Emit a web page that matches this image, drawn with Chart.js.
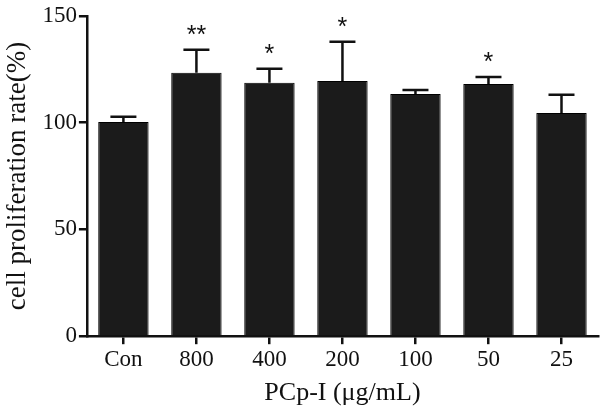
<!DOCTYPE html>
<html>
<head>
<meta charset="utf-8">
<script src="https://cdn.jsdelivr.net/npm/chart.js@4"></script>
<style>
  html, body { margin: 0; padding: 0; background: #fff; }
  #wrap { width: 608px; height: 420px; }
</style>
</head>
<body>
<div id="wrap"><canvas id="prolifChart"></canvas></div>
<script>
const groups = ["Con", "800", "400", "200", "100", "50", "25"];
const rates = [100.3, 123.3, 118.6, 119.5, 113.4, 118.1, 104.5];
const sdErr = [2.4, 10.8, 6.6, 18.3, 1.9, 3.3, 8.5];
const marks = ["", "**", "*", "*", "", "*", ""];
const yTicks = [0, 50, 100, 150];

const serif = "'Liberation Serif', 'Times New Roman', serif";

// error bars + significance stars drawn on top of the bars
const errorBars = {
  id: "errorBars",
  afterDatasetsDraw(chart) {
    const { ctx, scales: { x, y } } = chart;
    ctx.save();
    ctx.strokeStyle = "#111";
    ctx.lineWidth = 2.5;
    rates.forEach((v, i) => {
      const cx = x.getPixelForValue(i);
      const top = y.getPixelForValue(v + sdErr[i]);
      const base = y.getPixelForValue(v);
      ctx.beginPath();
      ctx.moveTo(cx, base);
      ctx.lineTo(cx, top);
      ctx.moveTo(cx - 13, top);
      ctx.lineTo(cx + 13, top);
      ctx.stroke();
      if (marks[i]) {
        ctx.fillStyle = "#111";
        ctx.font = "25px 'Liberation Sans', Arial, sans-serif";
        ctx.textAlign = "center";
        ctx.textBaseline = "alphabetic";
        ctx.fillText(marks[i], cx, top - 7);
      }
    });
    ctx.restore();
  },
};

new Chart(document.getElementById("prolifChart"), {
  type: "bar",
  data: {
    labels: groups,
    datasets: [
      {
        data: rates,
        backgroundColor: "#1b1b1b",
        borderColor: "#000",
        borderWidth: 1,
        barPercentage: 0.69,
        categoryPercentage: 1,
      },
    ],
  },
  options: {
    responsive: true,
    maintainAspectRatio: false,
    animation: false,
    layout: { padding: { top: 6, right: 10, bottom: 11, left: 2 } },
    plugins: {
      legend: { display: false },
      tooltip: { enabled: false },
    },
    scales: {
      x: {
        offset: true,
        border: { color: "#111", width: 2.5 },
        grid: {
          offset: false,
          drawOnChartArea: false,
          drawTicks: true,
          tickLength: 8,
          tickColor: "#111",
          lineWidth: 2.5,
        },
        ticks: { color: "#111", padding: 2, font: { family: serif, size: 23 } },
        title: {
          display: true,
          text: "PCp-I (μg/mL)",
          color: "#111",
          padding: { top: 2, bottom: 0 },
          font: { family: serif, size: 26 },
        },
      },
      y: {
        min: 0,
        max: 150,
        afterBuildTicks: (axis) => {
          axis.ticks = yTicks.map((v) => ({ value: v }));
        },
        border: { color: "#111", width: 2.5 },
        grid: {
          drawOnChartArea: false,
          drawTicks: true,
          tickLength: 8,
          tickColor: "#111",
          lineWidth: 2.5,
        },
        ticks: { color: "#111", padding: 2, font: { family: serif, size: 23 } },
        title: {
          display: true,
          text: "cell proliferation rate(%)",
          color: "#111",
          padding: { top: 0, bottom: 6 },
          font: { family: serif, size: 27 },
        },
      },
    },
  },
  plugins: [errorBars],
});
</script>
</body>
</html>
